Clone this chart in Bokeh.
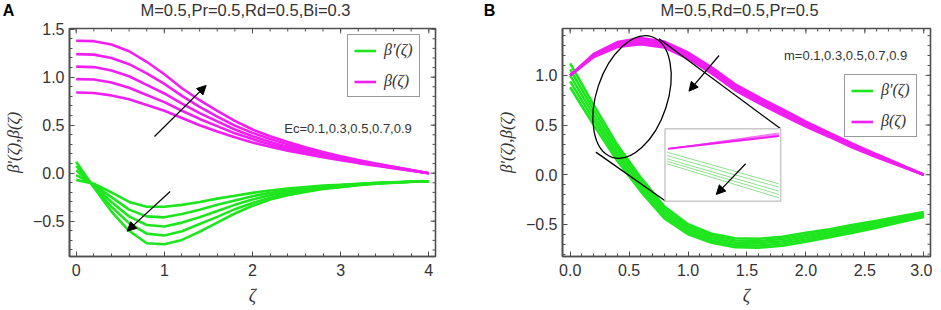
from bokeh.plotting import figure
from bokeh.layouts import row, column
from bokeh.models import (Range1d, FixedTicker, Legend, LegendItem,
                          Arrow, NormalHead, Label)
from bokeh.embed import file_html
from bokeh.resources import INLINE

# ---------------- Panel A data (Ec = 0.1 .. 0.9) ----------------
zeta_a = [0.0, 0.2, 0.4, 0.6, 0.8, 1.0, 1.2, 1.4, 1.6, 1.8, 2.0,
          2.2, 2.4, 2.6, 2.8, 3.0, 3.2, 3.4, 3.6, 3.8, 4.0]
ec_values = [0.1, 0.3, 0.5, 0.7, 0.9]

theta_a_ec01 = [0.84, 0.835, 0.81, 0.77, 0.71, 0.65, 0.575, 0.50, 0.435, 0.375, 0.32,
                0.275, 0.235, 0.20, 0.165, 0.135, 0.105, 0.077, 0.052, 0.026, 0.0]
theta_a_ec03 = [0.98, 0.975, 0.945, 0.89, 0.815, 0.74, 0.65, 0.565, 0.49, 0.415, 0.355,
                0.30, 0.255, 0.215, 0.18, 0.145, 0.113, 0.083, 0.055, 0.028, 0.0]
theta_a_ec05 = [1.11, 1.105, 1.07, 1.01, 0.92, 0.83, 0.725, 0.625, 0.54, 0.455, 0.385,
                0.325, 0.275, 0.23, 0.19, 0.153, 0.12, 0.088, 0.059, 0.03, 0.0]
theta_a_ec07 = [1.24, 1.235, 1.20, 1.135, 1.04, 0.93, 0.805, 0.69, 0.59, 0.495, 0.42,
                0.355, 0.30, 0.25, 0.205, 0.163, 0.128, 0.094, 0.063, 0.032, 0.0]
theta_a_ec09 = [1.38, 1.375, 1.34, 1.27, 1.16, 1.03, 0.885, 0.76, 0.65, 0.545, 0.455,
                0.385, 0.325, 0.27, 0.22, 0.175, 0.137, 0.10, 0.067, 0.034, 0.0]

dtheta_a_ec01 = [-0.07, -0.11, -0.20, -0.30, -0.35, -0.35, -0.33, -0.30, -0.265, -0.235, -0.205,
                 -0.18, -0.16, -0.145, -0.13, -0.12, -0.11, -0.10, -0.095, -0.09, -0.085]
dtheta_a_ec03 = [-0.02, -0.12, -0.25, -0.38, -0.45, -0.46, -0.425, -0.38, -0.33, -0.285, -0.24,
                 -0.205, -0.18, -0.16, -0.14, -0.125, -0.113, -0.103, -0.095, -0.09, -0.085]
dtheta_a_ec05 = [0.03, -0.13, -0.30, -0.45, -0.54, -0.555, -0.515, -0.46, -0.395, -0.33, -0.275,
                 -0.23, -0.195, -0.17, -0.15, -0.13, -0.117, -0.105, -0.097, -0.09, -0.085]
dtheta_a_ec07 = [0.075, -0.14, -0.35, -0.52, -0.63, -0.65, -0.605, -0.53, -0.455, -0.375, -0.31,
                 -0.255, -0.215, -0.185, -0.16, -0.14, -0.122, -0.108, -0.098, -0.09, -0.085]
dtheta_a_ec09 = [0.12, -0.15, -0.40, -0.60, -0.73, -0.74, -0.695, -0.61, -0.515, -0.42, -0.34,
                 -0.275, -0.23, -0.195, -0.165, -0.145, -0.126, -0.11, -0.099, -0.09, -0.085]

# ---------------- Panel B data (m = 0.1 .. 0.9) ----------------
zeta_b = [0.0, 0.2, 0.4, 0.6, 0.8, 1.0, 1.2, 1.4, 1.6, 1.8, 2.0, 2.2, 2.4, 2.6, 2.8, 3.0]
m_values = [0.1, 0.3, 0.5, 0.7, 0.9]

theta_b_m01 = [1.00, 1.215, 1.335, 1.375, 1.34, 1.23, 1.08, 0.91, 0.78, 0.66, 0.535, 0.42, 0.31, 0.205, 0.103, 0.0]
theta_b_m03 = [1.00, 1.208, 1.323, 1.36, 1.325, 1.215, 1.065, 0.895, 0.765, 0.645, 0.522, 0.41, 0.30, 0.198, 0.099, 0.0]
theta_b_m05 = [1.00, 1.20, 1.31, 1.345, 1.31, 1.20, 1.05, 0.88, 0.75, 0.63, 0.51, 0.40, 0.29, 0.19, 0.095, 0.0]
theta_b_m07 = [1.00, 1.192, 1.297, 1.33, 1.295, 1.185, 1.035, 0.865, 0.735, 0.615, 0.498, 0.39, 0.28, 0.182, 0.091, 0.0]
theta_b_m09 = [1.00, 1.185, 1.285, 1.315, 1.28, 1.17, 1.02, 0.85, 0.72, 0.60, 0.485, 0.38, 0.27, 0.175, 0.087, 0.0]

dtheta_b_m01 = [1.12, 0.70, 0.30, -0.03, -0.32, -0.50, -0.595, -0.64, -0.645, -0.625, -0.585, -0.55, -0.505, -0.465, -0.42, -0.375]
dtheta_b_m03 = [1.06, 0.65, 0.26, -0.065, -0.35, -0.525, -0.618, -0.663, -0.668, -0.648, -0.608, -0.57, -0.525, -0.483, -0.435, -0.388]
dtheta_b_m05 = [1.00, 0.60, 0.22, -0.10, -0.38, -0.55, -0.64, -0.685, -0.69, -0.67, -0.63, -0.59, -0.545, -0.50, -0.45, -0.40]
dtheta_b_m07 = [0.94, 0.55, 0.18, -0.135, -0.41, -0.575, -0.663, -0.708, -0.713, -0.693, -0.653, -0.61, -0.565, -0.518, -0.465, -0.413]
dtheta_b_m09 = [0.88, 0.50, 0.14, -0.17, -0.44, -0.60, -0.685, -0.73, -0.735, -0.715, -0.675, -0.63, -0.585, -0.535, -0.48, -0.425]

# inset (magnified view) in panel B
inset_x = [0.805, 1.786]
inset_y = [-0.267, 0.462]
inset_mag_x = [0.833, 1.771]
inset_mag_y_start = [0.261, 0.261, 0.261, 0.261]
inset_mag_y_end = [0.39, 0.40, 0.41, 0.42]
inset_grn_x = [0.82, 1.771]
inset_grn_y_start = [0.227, 0.193, 0.16, 0.136, 0.11]
inset_grn_y_end = [-0.092, -0.126, -0.166, -0.199, -0.233]

# ticks and tick labels
xticks_a = [0, 1, 2, 3, 4]
xminor_a = [round(0.2 * i, 2) for i in range(21)]
xlabels_a = {0: "0", 1: "1", 2: "2", 3: "3", 4: "4"}
yticks_a = [-0.5, 0.0, 0.5, 1.0, 1.5]
yminor_a = [round(-0.8 + 0.1 * i, 2) for i in range(24)]
ylabels_a = {-0.5: "\u22120.5", 0.0: "0.0", 0.5: "0.5", 1.0: "1.0", 1.5: "1.5"}
xticks_b = [0.0, 0.5, 1.0, 1.5, 2.0, 2.5, 3.0]
xminor_b = [round(0.1 * i, 2) for i in range(31)]
xlabels_b = {0.0: "0.0", 0.5: "0.5", 1.0: "1.0", 1.5: "1.5", 2.0: "2.0", 2.5: "2.5", 3.0: "3.0"}
yticks_b = [-0.5, 0.0, 0.5, 1.0]
yminor_b = [round(-0.8 + 0.1 * i, 2) for i in range(23)]
ylabels_b = {-0.5: "\u22120.5", 0.0: "0.0", 0.5: "0.5", 1.0: "1.0"}

GREEN = "#1ee61e"
MAGENTA = "#f01ef0"
FRAME = "#4f4f4f"
TXT = "#333333"
SANS = "Liberation Sans"
SERIF = "Liberation Serif"

FH = 228
HEAD_H = 19
TOP_BORDER = 9
WA_LEFT, WA_FRAME, WA_RIGHT = 62, 366, 44
WB_LEFT, WB_FRAME, WB_RIGHT = 83, 368, 2


def make_fig(xr, yr, fw, bl, br):
    p = figure(frame_width=fw, frame_height=FH, x_range=Range1d(*xr), y_range=Range1d(*yr),
               output_backend="svg", toolbar_location=None,
               min_border_left=bl, min_border_right=br, min_border_top=TOP_BORDER,
               min_border_bottom=38)
    p.grid.visible = False
    p.outline_line_color = FRAME
    p.outline_line_width = 1.6
    p.border_fill_color = "white"
    return p


def style_axes(p, fw, xt, xm, xl, yt, ym, yl, ylabel):
    for ax, t, m, lab in [(p.xaxis[0], xt, xm, xl), (p.yaxis[0], yt, ym, yl)]:
        ax.ticker = FixedTicker(ticks=t, minor_ticks=m)
        ax.major_label_overrides = lab
        ax.axis_line_color = FRAME
        ax.axis_line_width = 1.6
        ax.major_tick_line_color = FRAME
        ax.minor_tick_line_color = FRAME
        ax.major_tick_in = 5
        ax.major_tick_out = 0
        ax.minor_tick_in = 3
        ax.minor_tick_out = 0
        ax.major_label_text_font = SANS
        ax.major_label_text_font_size = "16px"
        ax.major_label_text_color = TXT
        ax.axis_label_text_font = SERIF
        ax.axis_label_text_font_style = "italic"
        ax.axis_label_text_font_size = "18px"
        ax.axis_label_text_color = TXT
    p.xaxis[0].major_label_standoff = 7
    p.yaxis[0].major_label_standoff = 5
    p.xaxis[0].axis_label = "\u03b6"
    p.xaxis[0].axis_label_standoff = 7
    p.yaxis[0].axis_label = ylabel
    p.yaxis[0].axis_label_standoff = 7
    p.yaxis[0].axis_label_text_font_size = "17px"
    # mirrored inward ticks on the top and right edges of the frame
    xr, yr = p.x_range, p.y_range
    dx = (xr.end - xr.start) / fw
    dy = (yr.end - yr.start) / FH
    for vals, ln in [(xt, 5), (xm, 3)]:
        vs = [v for v in vals if xr.start <= v <= xr.end]
        p.segment(x0=vs, x1=vs, y0=[yr.end] * len(vs), y1=[yr.end - ln * dy] * len(vs),
                  line_color=FRAME, line_width=1)
    for vals, ln in [(yt, 5), (ym, 3)]:
        vs = [v for v in vals if yr.start <= v <= yr.end]
        p.segment(x0=[xr.end] * len(vs), x1=[xr.end - ln * dx] * len(vs), y0=vs, y1=vs,
                  line_color=FRAME, line_width=1)


def add_legend(p, rg, rm, loc):
    lg = Legend(items=[LegendItem(label="\u03b2'(\u03b6)", renderers=[rg]),
                       LegendItem(label="\u03b2(\u03b6)", renderers=[rm])],
                location=loc)
    lg.border_line_color = "#333333"
    lg.border_line_width = 1.5
    lg.background_fill_color = "white"
    lg.background_fill_alpha = 1.0
    lg.label_text_font = SERIF
    lg.label_text_font_style = "italic"
    lg.label_text_font_size = "16px"
    lg.label_text_color = TXT
    lg.glyph_width = 22
    lg.glyph_height = 17
    lg.label_height = 17
    lg.label_standoff = 8
    lg.spacing = 13
    lg.padding = 6
    lg.margin = 0
    p.add_layout(lg)


def arrow(p, xs, ys, xe, ye):
    p.add_layout(Arrow(end=NormalHead(size=9, line_color="black", fill_color="black"),
                       x_start=xs, y_start=ys, x_end=xe, y_end=ye,
                       line_color="black", line_width=1.2))


def header(width, letter, letter_x, title, title_x):
    h = figure(width=width, height=HEAD_H, x_range=Range1d(0, width), y_range=Range1d(0, HEAD_H),
               output_backend="svg", toolbar_location=None, x_axis_location=None,
               y_axis_location=None, min_border=0)
    h.grid.visible = False
    h.outline_line_color = None
    h.border_fill_color = "white"
    h.add_layout(Label(x=letter_x, y=9.5, text=letter, text_font=SANS, text_font_style="bold",
                       text_font_size="16px", text_color="black", text_align="center",
                       text_baseline="middle"))
    h.add_layout(Label(x=title_x, y=9.5, text=title, text_font=SANS, text_font_size="16.5px",
                       text_color=TXT, text_align="center", text_baseline="middle"))
    return h


ylabel = "\u03b2'(\u03b6),\u03b2(\u03b6)"

# ================= Panel A =================
pa = make_fig((-0.076, 4.076), (-0.868, 1.507), WA_FRAME, WA_LEFT, WA_RIGHT)
style_axes(pa, WA_FRAME, xticks_a, xminor_a, xlabels_a, yticks_a, yminor_a, ylabels_a, ylabel)

g_a = [dtheta_a_ec01, dtheta_a_ec03, dtheta_a_ec05, dtheta_a_ec07, dtheta_a_ec09]
t_a = [theta_a_ec01, theta_a_ec03, theta_a_ec05, theta_a_ec07, theta_a_ec09]
rg_a = [pa.line(zeta_a, ys, line_color=GREEN, line_width=2.6) for ys in g_a][0]
rm_a = [pa.line(zeta_a, ys, line_color=MAGENTA, line_width=2.6) for ys in t_a][0]

arrow(pa, 0.888, 0.382, 1.474, 0.914)
arrow(pa, 1.066, -0.191, 0.578, -0.604)
pa.add_layout(Label(x=2.36, y=0.466, text="Ec=0.1,0.3,0.5,0.7,0.9", text_font=SANS,
                    text_font_size="13px", text_color=TXT, text_baseline="middle"))
add_legend(pa, rg_a, rm_a, (278, 159))

# ================= Panel B =================
pb = make_fig((-0.065, 3.057), (-0.824, 1.472), WB_FRAME, WB_LEFT, WB_RIGHT)
style_axes(pb, WB_FRAME, xticks_b, xminor_b, xlabels_b, yticks_b, yminor_b, ylabels_b, ylabel)

g_b = [dtheta_b_m01, dtheta_b_m03, dtheta_b_m05, dtheta_b_m07, dtheta_b_m09]
t_b = [theta_b_m01, theta_b_m03, theta_b_m05, theta_b_m07, theta_b_m09]
rg_b = [pb.line(zeta_b, ys, line_color=GREEN, line_width=2.6) for ys in g_b][0]
rm_b = [pb.line(zeta_b, ys, line_color=MAGENTA, line_width=2.6) for ys in t_b][0]

# magnifier: ellipse, connector lines, inset
pb.ellipse(x=[0.525], y=[0.782], width=71, height=127, angle=-0.32,
           width_units="screen", height_units="screen",
           fill_color=None, line_color="black", line_width=1.3)
pb.line([0.754, 1.786], [1.368, 0.462], line_color="black", line_width=1.3)
pb.line([0.218, 0.811], [0.227, -0.267], line_color="black", line_width=1.3)
pb.quad(left=[inset_x[0]], right=[inset_x[1]], bottom=[inset_y[0]], top=[inset_y[1]],
        fill_color="white", line_color="#c8c8c8", line_width=1.5)
for ys, ye in zip(inset_grn_y_start, inset_grn_y_end):
    pb.line(inset_grn_x, [ys, ye], line_color="#8fe08f", line_width=1)
for i, (ys, ye) in enumerate(zip(inset_mag_y_start, inset_mag_y_end)):
    pb.line(inset_mag_x, [ys, ye], line_color=MAGENTA, line_width=2 if i == 0 else 1,
            line_alpha=1.0 if i == 0 else 0.6)
arrow(pb, 1.489, 0.11, 1.240, -0.199)
arrow(pb, 1.263, 1.20, 1.008, 0.841)
pb.add_layout(Label(x=1.814, y=1.20, text="m=0.1,0.3,0.5,0.7,0.9", text_font=SANS,
                    text_font_size="13px", text_color=TXT, text_baseline="middle"))
add_legend(pb, rg_b, rm_b, (282, 119))

# ================= Headers (panel letter + title) =================
wa = WA_LEFT + WA_FRAME + WA_RIGHT
wb = WB_LEFT + WB_FRAME + WB_RIGHT
ha = header(wa, "A", 8, "M=0.5,Pr=0.5,Rd=0.5,Bi=0.3", 245)
hb = header(wb, "B", 17, "M=0.5,Rd=0.5,Pr=0.5", 267)

layout = column(row(ha, hb), row(pa, pb))
open("out.html", "w").write(file_html(layout, INLINE))
